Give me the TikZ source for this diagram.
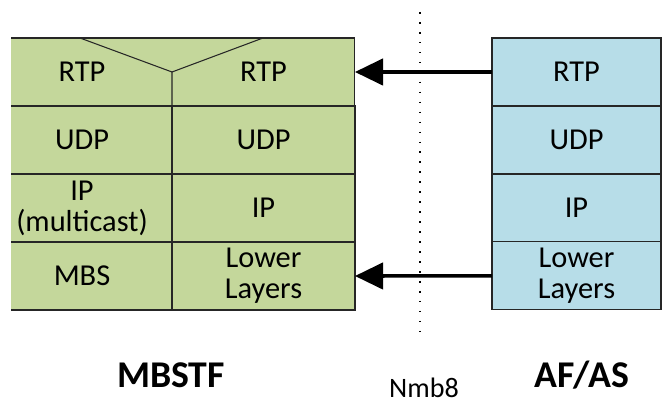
\documentclass[tikz,border=0pt]{standalone}
\usepackage{fontspec}
\setmainfont{Carlito}
\usetikzlibrary{arrows.meta,positioning}
\definecolor{cMB}{HTML}{C4D79B}
\definecolor{cAF}{HTML}{B7DDE8}

\begin{document}
\begin{tikzpicture}[x=0.02cm, y=-0.02cm, font=\fontsize{17.3}{17.6}\selectfont, >={Triangle[length=16pt,width=15pt]},
  mbcell/.style={draw=black!85, fill=cMB, line width=0.6pt, minimum height=1.36cm, inner sep=0pt, outer sep=0pt, align=center},
  afcell/.style={draw=black!85, fill=cAF, line width=0.6pt, minimum width=3.38cm, minimum height=1.36cm, inner sep=0pt, outer sep=0pt, align=center},
  link/.style={->, line width=2pt},
  lbl/.style={font=\fontsize{21.5}{24}\selectfont\bfseries}]
\useasboundingbox (0,0) rectangle (662,405);
% MBSTF stack, its left edge is cut off
\begin{scope}
\clip (11,0) rectangle (662,405);
\node[mbcell, minimum width=7.26cm] (mbrtp) at (173.5,72) {};
\foreach \n/\t/\y in {udp/UDP/140,ip/{IP\\(multicast)}/208,mbs/MBS/276}
  \node[mbcell, minimum width=3.6cm] (mbl\n) at (82,\y) {\t};
\foreach \n/\t/\y in {udp/UDP/140,ip/IP/208,low/{Lower\\Layers}/276}
  \node[mbcell, minimum width=3.66cm] (mbr\n) at (263.5,\y) {\t};
\end{scope}
\node (rtpA) at (82,72) {RTP};
\node (rtpB) at (263.5,72) {RTP};
\coordinate (apex) at (172,72);
\draw[line width=0.6pt, draw=black!85] (80,38) -- (apex) -- (263,38);
\draw[line width=0.6pt, draw=black!85] (apex) -- (mbrudp.north west);
% AF/AS stack
\node[afcell] (afrtp) at (576.5,72) {RTP};
\node[afcell, below=0pt of afrtp] (afudp) {UDP};
\node[afcell, below=0pt of afudp] (afip) {IP};
\node[afcell, below=0pt of afip] (aflow) {Lower\\Layers};
% reference point
\coordinate (ntop) at (420,12);
\coordinate (nbot) at (420,337);
\draw[line width=0.9pt, dash pattern=on 0.9pt off 4.77pt] (ntop) -- (nbot);
\draw[link] (afrtp.west) -- (mbrtp.east);
\draw[link] (aflow.west) -- (mbrlow.east);
\node[lbl] (mbstf) at (171,375) {MBSTF};
\node[lbl] (afas) at (582,375) {AF/AS};
\node[font=\fontsize{16}{18}\selectfont, inner sep=0pt] (nmb) at (424,388) {Nmb8};
\end{tikzpicture}
\end{document}
